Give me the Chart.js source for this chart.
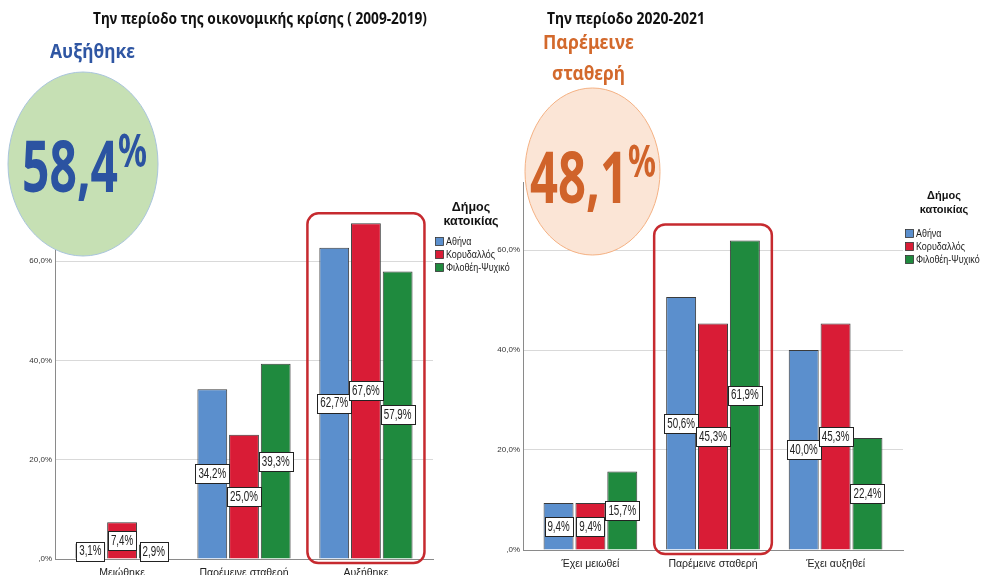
<!DOCTYPE html>
<html lang="el">
<head>
<meta charset="utf-8">
<script src="https://cdn.jsdelivr.net/npm/chart.js@4.4.1/dist/chart.umd.min.js"></script>
<style>
  html, body { margin: 0; padding: 0; background: #fff; }
  #wrap { position: relative; width: 981px; height: 575px; overflow: hidden; background: #fff; }
  canvas { position: absolute; top: 0; }
  #left { left: 0; }
  #right { left: 490px; }
  #overlay { position: absolute; left: 0; top: 0; pointer-events: none; }
  .head { font-family: "Noto Sans", sans-serif; font-weight: 700; }
</style>
</head>
<body>
<div id="wrap">
  <canvas id="left" width="490" height="575"></canvas>
  <canvas id="right" width="491" height="575"></canvas>
  <svg id="overlay" width="981" height="575" xmlns="http://www.w3.org/2000/svg">
    <!-- titles -->
    <text class="head" x="93" y="24" font-size="16" fill="#111" textLength="334" lengthAdjust="spacingAndGlyphs">Την περίοδο της οικονομικής κρίσης ( 2009-2019)</text>
    <text class="head" x="547" y="24" font-size="16" fill="#111" textLength="158" lengthAdjust="spacingAndGlyphs">Την περίοδο 2020-2021</text>

    <!-- left headline -->
    <text class="head" x="50" y="58" font-size="20" fill="#2f56a3" textLength="85" lengthAdjust="spacingAndGlyphs">Αυξήθηκε</text>
    <ellipse cx="83" cy="164" rx="75" ry="92" fill="#c6e0b4" stroke="#a9c4dc" stroke-width="1"/>
    <text class="head" x="22" y="192" font-size="72" fill="#2b53a1" textLength="96" lengthAdjust="spacingAndGlyphs">58,4</text>
    <text class="head" x="118" y="167" font-size="46" fill="#2b53a1" textLength="29" lengthAdjust="spacingAndGlyphs">%</text>

    <!-- right headline -->
    <text class="head" x="543" y="49" font-size="20" font-weight="600" fill="#d3692c" textLength="91" lengthAdjust="spacingAndGlyphs">Παρέμεινε</text>
    <text class="head" x="552" y="80" font-size="20" font-weight="600" fill="#d3692c" textLength="73" lengthAdjust="spacingAndGlyphs">σταθερή</text>
    <ellipse cx="592.5" cy="171.5" rx="67.5" ry="83.5" fill="#fbe5d6" stroke="#f4b183" stroke-width="1"/>
    <text class="head" x="530" y="203" font-size="71" fill="#d0632a" textLength="98" lengthAdjust="spacingAndGlyphs">48,1</text>
    <text class="head" x="628" y="177" font-size="45" fill="#d0632a" textLength="28" lengthAdjust="spacingAndGlyphs">%</text>

    <g id="legends"></g>
  </svg>
</div>
<script>
// Series colours follow the SPSS defaults used in the source
const municipalities = ['Αθήνα', 'Κορυδαλλός', 'Φιλοθέη-Ψυχικό'];
const barColors = ['#5b8fcd', '#d91c36', '#1f8a3e'];

// 2009-2019
const crisisCategories = ['Μειώθηκε', 'Παρέμεινε σταθερή', 'Αυξήθηκε'];
const crisisAthens = [3.1, 34.2, 62.7];
const crisisKorydallos = [7.4, 25.0, 67.6];
const crisisFilothei = [2.9, 39.3, 57.9];

// 2020-2021
const recentCategories = ['Έχει μειωθεί', 'Παρέμεινε σταθερή', 'Έχει αυξηθεί'];
const recentAthens = [9.4, 50.6, 40.0];
const recentKorydallos = [9.4, 45.3, 45.3];
const recentFilothei = [15.7, 61.9, 22.4];

const yTicks = [0, 20, 40, 60];
const yMax = 73.5;

const pct = v => (v === 0 ? ',0' : Number(v).toFixed(1).replace('.', ',')) + '%';

// boxed value label in the middle of each bar
const barLabels = {
  id: 'barLabels',
  afterDatasetsDraw(chart) {
    const { ctx } = chart;
    ctx.save();
    ctx.font = '14px "Liberation Sans", Arial, sans-serif';
    ctx.textAlign = 'center';
    ctx.textBaseline = 'middle';
    chart.data.datasets.forEach((ds, i) => {
      chart.getDatasetMeta(i).data.forEach((bar, j) => {
        const text = pct(ds.data[j]);
        const w = Math.round(ctx.measureText(text).width * 0.7 + 6);
        const h = 19;
        const cy = (bar.y + bar.base) / 2;
        const bx = Math.round(bar.x - w / 2) + 0.5;
        const by = Math.round(cy - h / 2) + 0.5;
        ctx.fillStyle = '#fff';
        ctx.fillRect(bx, by, w, h);
        ctx.strokeStyle = '#222';
        ctx.lineWidth = 1;
        ctx.strokeRect(bx, by, w, h);
        ctx.save();
        ctx.translate(bar.x, cy + 0.5);
        ctx.scale(0.7, 1);
        ctx.fillStyle = '#222';
        ctx.fillText(text, 0, 0);
        ctx.restore();
      });
    });
    ctx.restore();
  },
};

// red rounded frame around the highlighted category
const groupFrame = {
  id: 'groupFrame',
  afterDraw(chart, args, opts) {
    const { ctx, chartArea } = chart;
    const x = chart.scales.x;
    const y = chart.scales.y;
    const slot = x.getPixelForValue(1) - x.getPixelForValue(0);
    const cx = x.getPixelForValue(opts.index);
    const peak = Math.max(...chart.data.datasets.map(d => d.data[opts.index]));
    const left = cx - slot * 0.48;
    const top = y.getPixelForValue(peak) - opts.gap;
    const bottom = chartArea.bottom + 4;
    ctx.save();
    ctx.strokeStyle = opts.color;
    ctx.lineWidth = 2.5;
    ctx.beginPath();
    ctx.roundRect(left, top, slot * 0.96, bottom - top, 11);
    ctx.stroke();
    ctx.restore();
  },
};

function makeChart(id, labels, series, cfg) {
  return new Chart(document.getElementById(id), {
    type: 'bar',
    data: {
      labels,
      datasets: series.map((data, i) => ({
        label: municipalities[i],
        data,
        backgroundColor: barColors[i],
        borderColor: '#3b3b3b',
        borderWidth: 1,
        barPercentage: 0.94,
        categoryPercentage: 0.78,
      })),
    },
    options: {
      responsive: false,
      animation: false,
      layout: { padding: { top: cfg.top, right: cfg.right, left: 0, bottom: 0 } },
      plugins: {
        legend: { display: false },
        tooltip: { enabled: false },
        groupFrame: { index: cfg.highlight, gap: cfg.gap, color: '#c62a2f' },
      },
      scales: {
        x: {
          grid: { display: false, drawTicks: false },
          border: { color: '#8a8a8a' },
          ticks: {
            font: { size: 10.5, family: '"Liberation Sans", Arial, sans-serif' },
            color: '#222',
            padding: cfg.labelPad,
            maxRotation: 0,
          },
          // SPSS leaves a little extra room outside the outer groups
          afterBuildTicks(s) { s._startValue -= 0.05; s._valueRange += 0.1; },
          afterFit(s) { s.height = cfg.xHeight; },
        },
        y: {
          min: 0,
          max: yMax,
          afterBuildTicks(s) { s.ticks = yTicks.map(value => ({ value })); },
          ticks: {
            callback: v => pct(v),
            font: { size: 8, family: '"Liberation Sans", Arial, sans-serif' },
            color: '#333',
            padding: 3,
          },
          grid: { color: '#d9d9d9', drawTicks: false },
          border: { color: '#8a8a8a' },
          afterFit(s) { s.width = cfg.yWidth; },
        },
      },
    },
    plugins: [barLabels, groupFrame],
  });
}

makeChart('left', crisisCategories, [crisisAthens, crisisKorydallos, crisisFilothei], {
  top: 194, right: 57, yWidth: 55, xHeight: 16, labelPad: 8, highlight: 2, gap: 10,
});
makeChart('right', recentCategories, [recentAthens, recentKorydallos, recentFilothei], {
  top: 182.5, right: 78, yWidth: 33, xHeight: 25, labelPad: 8, highlight: 1, gap: 16,
});

// legends ("Δήμος κατοικίας")
const svgNS = 'http://www.w3.org/2000/svg';
const legendLayer = document.getElementById('legends');
function svgEl(tag, attrs, text) {
  const el = document.createElementNS(svgNS, tag);
  Object.entries(attrs).forEach(([k, v]) => el.setAttribute(k, v));
  if (text) el.textContent = text;
  legendLayer.appendChild(el);
  return el;
}
function addLegend(o) {
  const titleAttrs = { 'text-anchor': 'middle', 'font-family': '"Liberation Sans", Arial, sans-serif', 'font-weight': 700, 'font-size': o.titleSize, fill: '#111' };
  svgEl('text', { ...titleAttrs, x: o.cx, y: o.titleY }, 'Δήμος');
  svgEl('text', { ...titleAttrs, x: o.cx, y: o.titleY + o.titleGap }, 'κατοικίας');
  municipalities.forEach((name, i) => {
    const top = o.itemY + i * o.step;
    svgEl('rect', { x: o.x + 0.5, y: top + 0.5, width: 8, height: 8, fill: barColors[i], stroke: '#333', 'stroke-width': 0.8 });
    const t = svgEl('text', { x: o.x + 11, y: top + 8, 'font-family': '"Liberation Sans", Arial, sans-serif', 'font-size': 10.5, fill: '#222' }, name);
    // narrow the labels like the SPSS output
    const w = t.getComputedTextLength();
    t.setAttribute('textLength', (w * 0.85).toFixed(1));
    t.setAttribute('lengthAdjust', 'spacingAndGlyphs');
  });
}
addLegend({ cx: 471, titleY: 211, titleGap: 14, titleSize: 12.5, x: 435, itemY: 237, step: 13 });
addLegend({ cx: 944, titleY: 199, titleGap: 14, titleSize: 11, x: 905, itemY: 229, step: 13 });
</script>
</body>
</html>
